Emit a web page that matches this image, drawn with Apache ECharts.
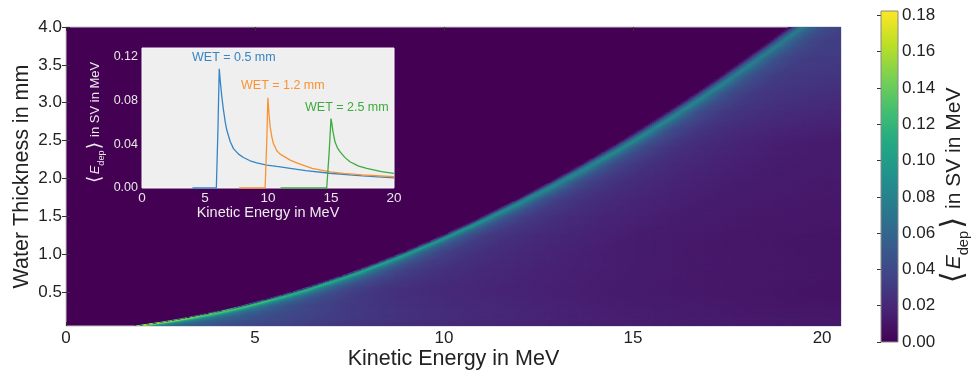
<!DOCTYPE html>
<html>
<head>
<meta charset="utf-8">
<script src="https://cdn.jsdelivr.net/npm/echarts@6/dist/echarts.min.js"></script>
<style>
  html, body { margin: 0; padding: 0; background: #fff; }
  #main { width: 971px; height: 375px; }
</style>
</head>
<body>
<div id="main"></div>
<script>
// edge of the non-zero region: kinetic energy (MeV) -> water thickness (mm)
var edgeE = [1.72, 2.0, 2.5, 3.0, 3.5, 4.0, 4.5, 5.0, 5.5, 6.0, 6.5, 7.0, 7.5, 8.0, 8.5, 9.0, 9.5,
  10.0, 10.5, 11.0, 11.5, 12.0, 12.5, 13.0, 13.5, 14.0, 14.5, 15.0, 15.5, 16.0, 16.5, 17.0, 17.5,
  18.0, 18.5, 19.0, 19.1];
var edgeT = [0.05, 0.072, 0.107, 0.148, 0.195, 0.248, 0.305, 0.369, 0.437, 0.510, 0.588, 0.671, 0.758,
  0.851, 0.948, 1.049, 1.155, 1.265, 1.380, 1.499, 1.623, 1.751, 1.882, 2.018, 2.159, 2.304, 2.451,
  2.604, 2.760, 2.921, 3.085, 3.253, 3.427, 3.604, 3.782, 3.967, 4.0];

// inset curves
var wet05E = [4.0, 5.9, 5.94, 6.03, 6.13, 6.21, 6.34, 6.47, 6.61, 6.73, 7.0, 7.26, 7.66, 8.05, 8.58,
  9.11, 9.9, 10.7, 11.76, 13.0, 14.9, 17.5, 20];
var wet05V = [0, 0, 0, 0.055, 0.109, 0.098, 0.083, 0.071, 0.060, 0.053, 0.0425, 0.036, 0.031, 0.0279, 0.0249,
  0.023, 0.021, 0.0197, 0.018, 0.0158, 0.0135, 0.011, 0.0093];
var wet12E = [7.7, 9.77, 9.8, 9.9, 9.99, 10.08, 10.17, 10.3, 10.43, 10.7, 10.96, 11.4, 11.76, 12.28,
  13.0, 13.5, 14.93, 16.0, 17.5, 20];
var wet12V = [0, 0, 0, 0.042, 0.0824, 0.068, 0.056, 0.047, 0.0406, 0.034, 0.031, 0.028, 0.0255, 0.023,
  0.020, 0.018, 0.0148, 0.0133, 0.012, 0.0103];
var wet25E = [11.0, 14.66, 14.7, 14.85, 15.0, 15.08, 15.15, 15.32, 15.5, 15.72, 16.1, 16.5, 17.2, 17.84, 19.0, 20];
var wet25V = [0, 0, 0, 0.032, 0.0634, 0.058, 0.052, 0.042, 0.037, 0.033, 0.028, 0.024, 0.020, 0.0179, 0.015, 0.0133];

// rows of the map: energy above the edge (MeV) -> value
var rowT = [0.05, 0.5, 1.2, 2.5, 4.0];
var row005DE = [0, 0.1, 0.2, 0.35, 0.6, 1.0, 1.6, 2.5, 3.5, 5.0, 7.0, 10.0, 14.0, 19.0];
var row005V = [0, 0.175, 0.15, 0.11, 0.08, 0.062, 0.052, 0.044, 0.038, 0.031, 0.025, 0.019, 0.015, 0.012];
var row05DE = [0, 0.09, 0.19, 0.27, 0.40, 0.53, 0.79, 1.06, 1.32, 2.1, 3.2, 4.8, 6.8, 9.0, 14.6];
var row05V = [0, 0.07, 0.125, 0.11, 0.088, 0.072, 0.055, 0.045, 0.038, 0.029, 0.024, 0.020, 0.017, 0.014, 0.0095];
var row12DE = [0, 0.1, 0.22, 0.31, 0.4, 0.53, 0.66, 0.93, 1.2, 2.0, 3.2, 5.2, 7.7, 10.7];
var row12V = [0, 0.055, 0.105, 0.085, 0.068, 0.056, 0.048, 0.038, 0.032, 0.025, 0.020, 0.015, 0.012, 0.0105];
var row25DE = [0, 0.17, 0.34, 0.5, 0.66, 0.84, 1.06, 1.44, 1.84, 2.5, 3.2, 4.3, 5.8];
var row25V = [0, 0.05, 0.09, 0.07, 0.055, 0.045, 0.038, 0.031, 0.026, 0.022, 0.019, 0.016, 0.014];
var row40DE = [0, 0.18, 0.36, 0.55, 0.8, 1.1, 1.5];
var row40V = [0, 0.045, 0.078, 0.06, 0.048, 0.040, 0.035];

var xTicks = [0, 5, 10, 15, 20];
var yTicks = [0.5, 1.0, 1.5, 2.0, 2.5, 3.0, 3.5, 4.0];
var insetYTicks = [0, 0.04, 0.08, 0.12];
var cbTicks = [0, 0.02, 0.04, 0.06, 0.08, 0.10, 0.12, 0.14, 0.16, 0.18];

var viridis = ['#440154', '#482475', '#414487', '#355f8d', '#2a788e', '#21918c',
  '#22a884', '#44bf70', '#7ad151', '#bddf26', '#fde725'];

var FONT = '"Liberation Sans", Arial, sans-serif';
var DX = 0.05, DY = 0.0125;
var VMAX = 0.1824;

function lerp(xs, ys, x) {
  var n = xs.length;
  if (x <= xs[0]) return ys[0];
  if (x >= xs[n - 1]) return ys[n - 1];
  for (var i = 1; i < n; i++) {
    if (x <= xs[i]) {
      var w = (x - xs[i - 1]) / (xs[i] - xs[i - 1]);
      return ys[i - 1] + w * (ys[i] - ys[i - 1]);
    }
  }
  return ys[n - 1];
}

var rowDE = [row005DE, row05DE, row12DE, row25DE, row40DE];
var rowV = [row005V, row05V, row12V, row25V, row40V];

// table of map cells [energy, thickness, value]
var mapData = [];
var nRows = Math.round((4.0 - 0.05) / DY);
var nCols = Math.round(20.5 / DX);
for (var r = 0; r < nRows; r++) {
  var t0 = 0.05 + r * DY;
  var tc = t0 + DY / 2;
  var edge = lerp(edgeT, edgeE, tc);
  var k = 0;
  while (k < rowT.length - 2 && tc > rowT[k + 1]) k++;
  var w = (tc - rowT[k]) / (rowT[k + 1] - rowT[k]);
  for (var c = 0; c < nCols; c++) {
    var e0 = c * DX;
    var dE = e0 + DX / 2 - edge;
    if (dE <= 0) continue;
    var v = (1 - w) * lerp(rowDE[k], rowV[k], dE) + w * lerp(rowDE[k + 1], rowV[k + 1], dE);
    mapData.push([e0, t0, v]);
  }
}

function pairs(xs, ys) {
  return xs.map(function (x, i) { return [x, ys[i]]; });
}

var subName = function (size, color, shift) {
  var lh = size * 1.7;
  return {
    color: color,
    fontFamily: FONT,
    padding: [0, shift, 0, 0],
    rich: {
      br: { fontSize: size * 1.45, lineHeight: lh, color: color, fontFamily: 'DejaVu Sans',
        padding: [0, size * 0.1] },
      it: { fontSize: size, fontStyle: 'italic', lineHeight: lh, color: color, fontFamily: FONT },
      sub: { fontSize: size * 0.7, verticalAlign: 'bottom', lineHeight: lh, color: color, fontFamily: FONT },
      tx: { fontSize: size, lineHeight: lh, color: color, fontFamily: FONT }
    }
  };
};
var subText = '{br|⟨}{it|E}{sub|dep}{br|⟩}{tx| in SV in MeV}';

var tickStyle = { color: '#333', width: 1 };

var myChart = echarts.init(document.getElementById('main'), null, { renderer: 'canvas' });

var option = {
  animation: false,
  backgroundColor: '#fff',
  grid: [
    { left: 66, top: 27, width: 775, height: 299, show: true, backgroundColor: '#440154',
      borderColor: '#c4c4c4', borderWidth: 1, z: 0, containLabel: false, outerBoundsMode: 'none' },
    { left: 142, top: 48, width: 252, height: 140, show: true, backgroundColor: '#efefef',
      borderColor: '#f7f7f7', borderWidth: 1, z: 1, containLabel: false, outerBoundsMode: 'none' },
    { left: 881, top: 11, width: 17, height: 331, show: true, backgroundColor: 'transparent',
      borderColor: '#888', borderWidth: 1, z: 3, containLabel: false, outerBoundsMode: 'none' }
  ],
  visualMap: {
    type: 'continuous',
    show: false,
    min: 0,
    max: VMAX,
    dimension: 2,
    seriesIndex: [0],
    inRange: { color: viridis }
  },
  xAxis: [
    { type: 'value', gridIndex: 0, min: 0, max: 20.5,
      axisLine: { show: false }, splitLine: { show: false },
      axisTick: { inside: true, length: 4, lineStyle: tickStyle, customValues: xTicks },
      axisLabel: { customValues: xTicks, fontSize: 17, color: '#222', margin: 4, fontFamily: FONT },
      name: 'Kinetic Energy in MeV', nameLocation: 'middle', nameGap: 22, nameMoveOverlap: false,
      nameTextStyle: { fontSize: 21.5, color: '#222', fontFamily: FONT } },
    { type: 'value', gridIndex: 0, position: 'top', min: 0, max: 20.5,
      axisLine: { show: false }, splitLine: { show: false },
      axisTick: { inside: true, length: 4, lineStyle: tickStyle, customValues: xTicks },
      axisLabel: { show: false } },
    { type: 'value', gridIndex: 1, min: 0, max: 20, interval: 5, z: 4,
      axisLine: { show: false }, splitLine: { show: false }, axisTick: { show: false },
      axisLabel: { fontSize: 13.5, color: '#e8e8e8', margin: 3, fontFamily: FONT },
      name: 'Kinetic Energy in MeV', nameLocation: 'middle', nameGap: 17, nameMoveOverlap: false,
      nameTextStyle: { fontSize: 14.5, color: '#ececec', fontFamily: FONT } },
    { type: 'value', gridIndex: 2, min: 0, max: 1, show: false }
  ],
  yAxis: [
    { type: 'value', gridIndex: 0, min: 0.05, max: 4.0,
      axisLine: { show: false }, splitLine: { show: false },
      axisTick: { inside: true, length: 4, lineStyle: tickStyle, customValues: yTicks },
      axisLabel: { customValues: yTicks, fontSize: 17, color: '#222', margin: 4, fontFamily: FONT,
        formatter: function (v) { return v.toFixed(1); } },
      name: 'Water Thickness in mm', nameLocation: 'middle', nameGap: 33, nameMoveOverlap: false,
      nameTextStyle: { fontSize: 21.5, color: '#222', fontFamily: FONT } },
    { type: 'value', gridIndex: 0, position: 'right', min: 0.05, max: 4.0,
      axisLine: { show: false }, splitLine: { show: false },
      axisTick: { inside: true, length: 4, lineStyle: tickStyle, customValues: yTicks },
      axisLabel: { show: false } },
    { type: 'value', gridIndex: 1, min: 0, max: 0.128, z: 4,
      axisLine: { show: false }, splitLine: { show: false }, axisTick: { show: false },
      axisLabel: { customValues: insetYTicks, fontSize: 12.5, color: '#e8e8e8', margin: 4, fontFamily: FONT,
        formatter: function (v) { return v.toFixed(2); } },
      name: subText, nameLocation: 'middle', nameGap: 36, nameRotate: 90, nameMoveOverlap: false,
      nameTextStyle: subName(13, '#ececec', 10) },
    { type: 'value', gridIndex: 2, position: 'right', min: 0, max: VMAX,
      axisLine: { show: false }, splitLine: { show: false },
      axisTick: { inside: true, length: 4, lineStyle: tickStyle, customValues: cbTicks },
      axisLabel: { customValues: cbTicks, fontSize: 17, color: '#222', margin: 4, fontFamily: FONT,
        formatter: function (v) { return v.toFixed(2); } },
      name: subText, nameLocation: 'middle', nameGap: 38, nameRotate: 90, nameMoveOverlap: false,
      nameTextStyle: subName(21, '#222', 20) }
  ],
  series: [
    {
      type: 'custom',
      xAxisIndex: 0,
      yAxisIndex: 0,
      clip: true,
      progressive: 0,
      data: mapData,
      renderItem: function (params, api) {
        var p = api.coord([api.value(0), api.value(1) + DY]);
        var s = api.size([DX, DY]);
        return {
          type: 'rect',
          shape: { x: p[0], y: p[1], width: s[0] + 0.6, height: s[1] + 0.6 },
          style: { fill: api.visual('color') }
        };
      }
    },
    {
      // colour bar
      type: 'custom',
      xAxisIndex: 3,
      yAxisIndex: 3,
      data: [[0, 0]],
      renderItem: function (params, api) {
        var p0 = api.coord([0, VMAX]);
        var p1 = api.coord([1, 0]);
        return {
          type: 'rect',
          shape: { x: p0[0], y: p0[1], width: p1[0] - p0[0], height: p1[1] - p0[1] },
          style: {
            fill: {
              type: 'linear', x: 0, y: 1, x2: 0, y2: 0,
              colorStops: viridis.map(function (col, i) { return { offset: i / (viridis.length - 1), color: col }; })
            }
          }
        };
      }
    },
    { type: 'line', xAxisIndex: 2, yAxisIndex: 2, z: 5, symbol: 'none', data: pairs(wet05E, wet05V),
      lineStyle: { color: '#3585c5', width: 1.3 } },
    { type: 'line', xAxisIndex: 2, yAxisIndex: 2, z: 5, symbol: 'none', data: pairs(wet12E, wet12V),
      lineStyle: { color: '#fb9232', width: 1.3 } },
    { type: 'line', xAxisIndex: 2, yAxisIndex: 2, z: 5, symbol: 'none', data: pairs(wet25E, wet25V),
      lineStyle: { color: '#3faa3f', width: 1.3 } }
  ],
  graphic: [
    { type: 'text', x: 192, y: 58, z: 10,
      style: { text: 'WET = 0.5 mm', fill: '#3585c5', font: '12.5px ' + FONT, verticalAlign: 'middle' } },
    { type: 'text', x: 241, y: 86, z: 10,
      style: { text: 'WET = 1.2 mm', fill: '#fb9232', font: '12.5px ' + FONT, verticalAlign: 'middle' } },
    { type: 'text', x: 305, y: 108, z: 10,
      style: { text: 'WET = 2.5 mm', fill: '#3faa3f', font: '12.5px ' + FONT, verticalAlign: 'middle' } }
  ]
};

myChart.setOption(option);
</script>
</body>
</html>
